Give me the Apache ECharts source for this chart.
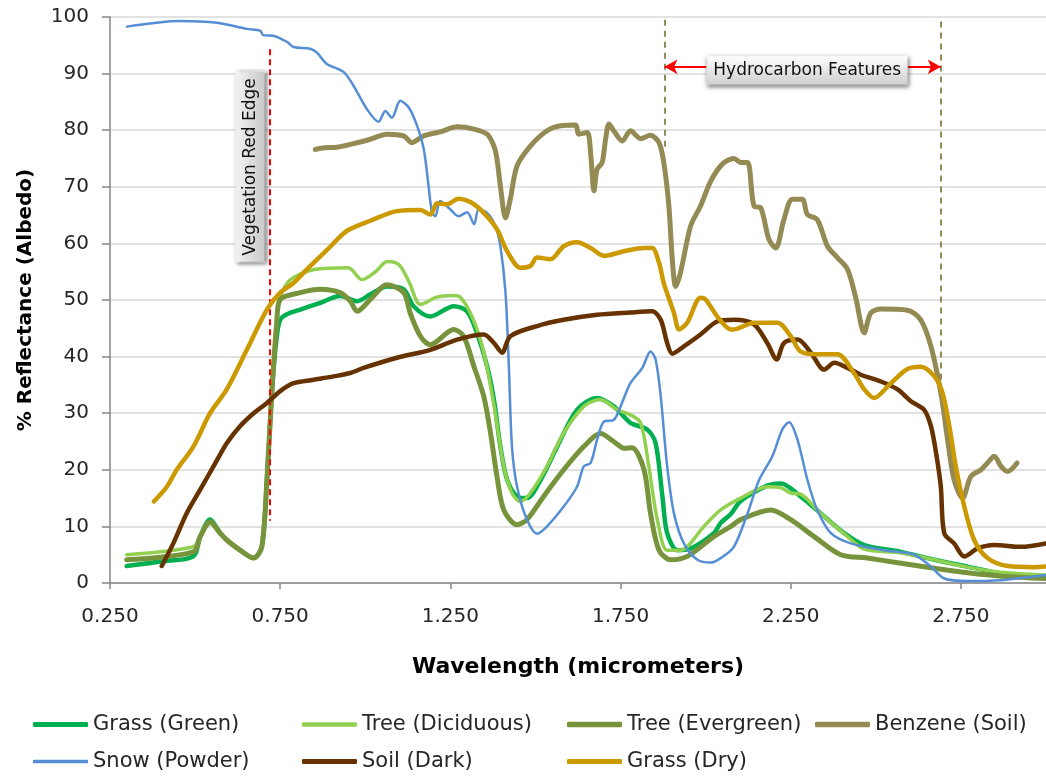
<!DOCTYPE html>
<html><head><meta charset="utf-8">
<script src="https://cdn.jsdelivr.net/npm/echarts@6/dist/echarts.min.js"></script>
<style>html,body{margin:0;padding:0;background:#fff}#c{width:1046px;height:778px}</style>
</head><body><div id="c"></div>
<script>
const seriesNames = ['Grass (Green)','Tree (Diciduous)','Tree (Evergreen)','Benzene (Soil)','Snow (Powder)','Soil (Dark)','Grass (Dry)'];
const xTicks = [0.25,0.75,1.25,1.75,2.25,2.75];

const grassGreen = [[0.299,3.0],[0.40,3.8],[0.495,4.7],[0.515,8.2],[0.544,11.2],[0.574,8.8],[0.593,7.6],[0.632,5.8],[0.672,4.4],[0.696,6.4],[0.711,18.2],[0.726,34.2],[0.74,43.5],[0.75,46.5],[0.77,47.5],[0.809,48.3],[0.868,49.5],[0.926,50.7],[0.976,49.8],[1.015,51.0],[1.064,52.4],[1.113,51.9],[1.142,48.9],[1.191,47.1],[1.26,48.9],[1.299,48.0],[1.328,44.2],[1.358,38.3],[1.378,32.4],[1.397,24.1],[1.417,18.2],[1.446,15.3],[1.475,15.0],[1.515,18.2],[1.564,24.1],[1.622,30.6],[1.681,32.7],[1.73,31.2],[1.779,28.3],[1.828,27.1],[1.853,24.7],[1.873,15.3],[1.887,8.8],[1.917,5.8],[1.956,6.1],[2.024,8.8],[2.044,10.6],[2.074,12.2],[2.103,14.5],[2.181,17.2],[2.221,17.6],[2.279,15.3],[2.338,12.3],[2.407,8.8],[2.466,6.7],[2.574,5.5],[2.672,4.1],[2.77,2.9],[2.868,1.7],[3.0,0.8]];
const treeDiciduous = [[0.299,5.0],[0.495,6.4],[0.515,8.2],[0.544,10.5],[0.574,8.6],[0.593,7.6],[0.632,5.8],[0.672,4.4],[0.696,6.4],[0.711,18.2],[0.726,34.2],[0.74,47.0],[0.75,50.5],[0.78,53.6],[0.85,55.4],[0.95,55.7],[0.99,53.6],[1.03,55.0],[1.065,56.8],[1.10,56.2],[1.13,53.0],[1.162,49.2],[1.21,50.5],[1.26,50.8],[1.279,50.5],[1.309,47.7],[1.338,43.0],[1.358,38.0],[1.382,30.0],[1.407,20.6],[1.431,15.9],[1.456,14.4],[1.485,15.9],[1.534,20.6],[1.583,26.5],[1.642,31.2],[1.691,32.4],[1.74,30.6],[1.779,29.7],[1.809,28.3],[1.833,20.6],[1.858,11.2],[1.887,5.8],[1.926,5.8],[1.995,10.0],[2.044,12.9],[2.103,15.0],[2.181,17.0],[2.221,16.8],[2.25,15.9],[2.279,15.7],[2.338,12.3],[2.417,8.2],[2.466,6.0],[2.574,5.3],[2.672,4.1],[2.77,2.8],[2.868,1.9],[3.0,1.4]];
const treeEvergreen = [[0.299,4.1],[0.495,5.5],[0.515,8.2],[0.544,10.8],[0.574,8.8],[0.593,7.6],[0.632,5.8],[0.672,4.4],[0.696,6.4],[0.711,18.2],[0.726,34.2],[0.74,46.0],[0.75,50.1],[0.809,51.3],[0.868,51.9],[0.926,51.3],[0.956,49.8],[0.976,48.0],[1.015,50.1],[1.064,52.7],[1.113,51.3],[1.132,47.7],[1.162,43.6],[1.191,42.1],[1.26,44.8],[1.289,43.6],[1.319,38.3],[1.348,33.0],[1.368,26.5],[1.387,18.8],[1.407,12.9],[1.446,10.3],[1.475,11.2],[1.524,15.3],[1.583,20.0],[1.642,24.1],[1.691,26.4],[1.73,25.0],[1.76,23.8],[1.784,23.9],[1.819,20.0],[1.838,12.3],[1.863,5.8],[1.897,4.1],[1.946,4.7],[2.024,8.2],[2.074,10.0],[2.103,11.2],[2.191,12.9],[2.25,11.2],[2.319,8.2],[2.397,5.0],[2.475,4.4],[2.574,3.5],[2.672,2.6],[2.77,1.8],[2.868,1.2],[3.0,0.8]];
const benzeneSoil = [[0.853,76.6],[0.88,76.9],[0.917,77.0],[0.956,77.5],[1.015,78.4],[1.064,79.3],[1.113,79.0],[1.137,77.8],[1.172,79.0],[1.22,79.7],[1.27,80.6],[1.319,80.2],[1.358,79.3],[1.378,77.2],[1.387,74.9],[1.397,70.1],[1.412,64.5],[1.426,67.8],[1.446,73.7],[1.485,77.2],[1.534,79.9],[1.574,80.8],[1.618,80.9],[1.627,79.3],[1.652,79.6],[1.662,76.0],[1.672,69.3],[1.681,73.1],[1.696,74.3],[1.706,78.4],[1.716,81.1],[1.73,79.9],[1.755,78.1],[1.779,79.9],[1.809,78.5],[1.838,79.1],[1.863,77.8],[1.877,74.3],[1.892,66.6],[1.902,57.2],[1.912,52.4],[1.926,54.8],[1.956,63.1],[1.985,66.6],[2.015,71.0],[2.049,74.0],[2.083,75.0],[2.103,74.3],[2.123,74.3],[2.142,66.6],[2.162,66.3],[2.186,60.7],[2.206,59.2],[2.23,64.2],[2.255,67.8],[2.284,67.8],[2.299,65.1],[2.328,64.2],[2.358,59.5],[2.387,57.5],[2.417,55.4],[2.441,50.4],[2.466,44.2],[2.485,47.7],[2.515,48.4],[2.593,48.2],[2.632,46.5],[2.662,41.8],[2.691,33.6],[2.711,25.3],[2.73,18.2],[2.755,15.0],[2.779,18.8],[2.809,20.0],[2.828,21.2],[2.848,22.4],[2.868,20.6],[2.887,19.7],[2.915,21.2]];
const snowPowder = [[0.30,98.3],[0.456,99.3],[0.564,99.0],[0.652,97.9],[0.691,97.6],[0.70,96.8],[0.73,96.7],[0.77,95.6],[0.789,94.7],[0.838,94.4],[0.858,93.7],[0.887,91.7],[0.936,90.3],[0.966,87.8],[1.005,83.7],[1.039,81.5],[1.059,83.4],[1.078,82.2],[1.103,85.2],[1.128,84.0],[1.152,80.8],[1.172,76.6],[1.186,70.1],[1.196,65.5],[1.206,64.8],[1.22,67.5],[1.25,66.0],[1.274,64.8],[1.299,65.5],[1.32,63.4],[1.333,66.0],[1.358,65.4],[1.382,63.1],[1.397,59.5],[1.412,51.3],[1.422,38.0],[1.431,24.1],[1.446,17.0],[1.475,11.2],[1.505,8.7],[1.534,10.0],[1.583,13.5],[1.622,17.0],[1.642,20.6],[1.662,21.2],[1.681,25.3],[1.701,28.5],[1.73,28.8],[1.75,31.2],[1.779,35.3],[1.814,38.0],[1.838,40.9],[1.853,39.5],[1.868,33.0],[1.887,20.6],[1.907,12.3],[1.936,7.0],[1.976,4.1],[2.015,3.6],[2.044,4.4],[2.083,6.4],[2.123,12.3],[2.157,18.2],[2.196,22.4],[2.225,27.1],[2.245,28.4],[2.27,25.3],[2.299,18.2],[2.328,12.9],[2.368,8.8],[2.426,7.0],[2.524,5.8],[2.613,5.0],[2.662,2.9],[2.701,0.8],[2.77,0.35],[2.868,0.5],[2.926,0.9],[3.0,1.4]];
const soilDark = [[0.402,3.0],[0.436,7.0],[0.475,12.3],[0.515,16.5],[0.554,20.6],[0.593,24.7],[0.632,27.7],[0.672,30.0],[0.711,31.8],[0.75,33.9],[0.789,35.3],[0.848,35.9],[0.907,36.5],[0.956,37.1],[0.995,38.0],[1.093,39.8],[1.191,41.2],[1.27,43.0],[1.348,43.9],[1.378,42.4],[1.402,40.7],[1.426,43.6],[1.505,45.4],[1.583,46.5],[1.681,47.4],[1.779,47.8],[1.843,48.0],[1.868,46.5],[1.887,42.4],[1.902,40.5],[1.936,41.8],[1.985,43.9],[2.034,46.2],[2.083,46.5],[2.142,45.7],[2.181,42.4],[2.209,39.5],[2.23,42.4],[2.27,43.0],[2.309,40.7],[2.348,37.7],[2.378,38.9],[2.417,38.0],[2.456,36.8],[2.515,35.6],[2.564,34.2],[2.603,32.1],[2.642,30.6],[2.662,27.7],[2.677,23.0],[2.691,17.0],[2.701,8.8],[2.73,7.0],[2.76,4.7],[2.799,6.1],[2.848,6.7],[2.926,6.4],[3.0,7.0]];
const grassDry = [[0.379,14.4],[0.417,17.0],[0.446,20.0],[0.495,24.1],[0.544,30.0],[0.593,34.2],[0.652,41.2],[0.711,48.3],[0.75,51.3],[0.789,53.0],[0.83,55.5],[0.887,58.8],[0.946,62.2],[1.015,64.0],[1.093,65.7],[1.162,65.9],[1.191,65.1],[1.211,67.1],[1.24,66.9],[1.274,67.9],[1.309,67.3],[1.348,65.4],[1.387,62.5],[1.417,58.6],[1.456,55.7],[1.485,56.0],[1.505,57.5],[1.544,57.2],[1.583,59.5],[1.622,60.2],[1.662,59.2],[1.701,57.8],[1.76,58.6],[1.819,59.2],[1.843,59.2],[1.863,56.6],[1.877,53.0],[1.907,47.7],[1.922,44.8],[1.946,46.0],[1.985,50.4],[2.0,50.1],[2.034,47.1],[2.074,44.8],[2.083,44.8],[2.142,46.0],[2.211,46.0],[2.25,43.6],[2.279,40.9],[2.328,40.4],[2.387,40.4],[2.436,37.1],[2.466,34.2],[2.495,32.7],[2.544,35.3],[2.593,37.8],[2.632,38.2],[2.672,36.5],[2.696,33.6],[2.716,27.7],[2.735,20.6],[2.76,13.5],[2.789,7.6],[2.828,4.4],[2.887,3.0],[2.966,2.8],[3.0,2.9]];

// annotation anchors (data space)
const redEdgeX = 0.72, redEdgeY = [94.3, 11.0];
const hcStart = 1.879, hcEnd = 2.691, hcArrowY = 91.2;
const hcStartY = [99.5, 76.5], hcEndY = [99.2, 33.0];
const redEdgeLabel = [0.662, 73.5], hcLabel = [2.2985, 90.6];

const FONT = 'DejaVu Sans';
const colors = ['#00B050','#92D050','#77933C','#948A54','#558ED5','#663300','#CC9900'];
const widths = [4.5,3.5,5,5,2.5,4.5,4.5];
const legendThick = [5,4.5,5.5,5.5,3.5,5,5];
const datasets = [grassGreen, treeDiciduous, treeEvergreen, benzeneSoil, snowPowder, soilDark, grassDry];
const legendPos = [[28,709],[297,709],[562,709],[810,709],[28,746],[297,746],[562,746]];

const boxBg = {type:'linear',x:0,y:0,x2:0,y2:1,colorStops:[{offset:0,color:'#ffffff'},{offset:1,color:'#cfcfcf'}]};
const boxBgV = {type:'linear',x:0,y:0,x2:0,y2:1,colorStops:[{offset:0,color:'#f4f4f4'},{offset:1,color:'#c8c8c8'}]};

const series = datasets.map((d,i)=>({
  name: seriesNames[i], type:'line', data:d, showSymbol:false, symbol:'none',
  smooth:0.3,
  lineStyle:{color:colors[i], width:widths[i], cap:'round', join:'round'}, itemStyle:{color:colors[i]},
  z: 2+i, silent:true
}));

series.push({
  type:'line', data:[], silent:true, z:20,
  markLine:{silent:true, symbol:'none', animation:false, label:{show:false},
    lineStyle:{color:'#FF0000', width:2, type:[6,4]},
    data:[[{coord:[redEdgeX,redEdgeY[0]]},{coord:[redEdgeX,redEdgeY[1]]}]]}
});
series.push({
  type:'line', data:[], silent:true, z:20,
  markLine:{silent:true, symbol:'none', animation:false, label:{show:false},
    lineStyle:{color:'#948A54', width:2, type:[6,5]},
    data:[[{coord:[hcStart,hcStartY[0]]},{coord:[hcStart,hcStartY[1]]}],
          [{coord:[hcEnd,hcEndY[0]]},{coord:[hcEnd,hcEndY[1]]}]]}
});
series.push({
  type:'line', data:[], silent:true, z:21,
  markLine:{silent:true, symbol:['arrow','arrow'], symbolSize:[11,13], animation:false, label:{show:false},
    lineStyle:{color:'#FF0000', width:2, type:'solid'},
    data:[[{coord:[hcStart,hcArrowY]},{coord:[hcEnd,hcArrowY]}]]}
});
series.push({
  type:'line', data:[], silent:true, z:30,
  markPoint:{silent:true, animation:false, symbol:'rect', symbolSize:1, itemStyle:{color:'rgba(0,0,0,0)'},
    data:[
      {coord:redEdgeLabel, label:{show:true, position:'inside', formatter:'Vegetation Red Edge', rotate:90,
        fontFamily:FONT, fontSize:17, color:'#111', lineHeight:18, padding:[5,6,5,6],
        backgroundColor:boxBgV, borderColor:'#ffffff', borderWidth:1,
        shadowBlur:4, shadowColor:'rgba(0,0,0,0.45)', shadowOffsetX:2, shadowOffsetY:1}},
      {coord:hcLabel, label:{show:true, position:'inside', formatter:'Hydrocarbon Features',
        fontFamily:FONT, fontSize:17, color:'#111', lineHeight:18, padding:[5,6,5,6],
        backgroundColor:boxBg, borderColor:'#ffffff', borderWidth:1,
        shadowBlur:4, shadowColor:'rgba(0,0,0,0.45)', shadowOffsetX:1, shadowOffsetY:2}}
    ]}
});

const legends = seriesNames.map((n,i)=>({
  data:[{name:n, icon:'roundRect'}], left:legendPos[i][0], top:legendPos[i][1], orient:'horizontal',
  itemWidth:55, itemHeight:legendThick[i], itemGap:0, selectedMode:false,
  itemStyle:{color:colors[i], borderWidth:0},
  textStyle:{fontFamily:FONT, fontSize:21, color:'#262626'}
}));

const chart = echarts.init(document.getElementById('c'), null, {renderer:'canvas'});
chart.setOption({
  animation:false,
  backgroundColor:'#ffffff',
  grid:{left:110, right:0, top:17, bottom:195, containLabel:false},
  legend: legends,
  xAxis:{
    type:'value', min:xTicks[0], max:3.0, interval:0.5,
    name:'Wavelength (micrometers)', nameLocation:'middle', nameGap:73,
    nameTextStyle:{fontFamily:FONT, fontSize:22, fontWeight:'bold', color:'#000'},
    axisLine:{show:true, lineStyle:{color:'#868686', width:1.5}},
    axisTick:{show:true, length:6, lineStyle:{color:'#868686', width:1.5}},
    axisLabel:{fontFamily:FONT, fontSize:20, color:'#262626', margin:24, showMaxLabel:false,
      formatter:v=>v.toFixed(3)},
    splitLine:{show:false}
  },
  yAxis:{
    type:'value', min:0, max:100, interval:10,
    name:'% Reflectance (Albedo)', nameLocation:'middle', nameGap:74,
    nameTextStyle:{fontFamily:FONT, fontSize:20, fontWeight:'bold', color:'#000'},
    axisLine:{show:true, lineStyle:{color:'#868686', width:1.5}},
    axisTick:{show:true, length:8, lineStyle:{color:'#868686', width:1.5}},
    axisLabel:{fontFamily:FONT, fontSize:20, color:'#262626', margin:21},
    splitLine:{show:true, lineStyle:{color:'#d9d9d9', width:1.5}}
  },
  series: series
});
</script></body></html>
